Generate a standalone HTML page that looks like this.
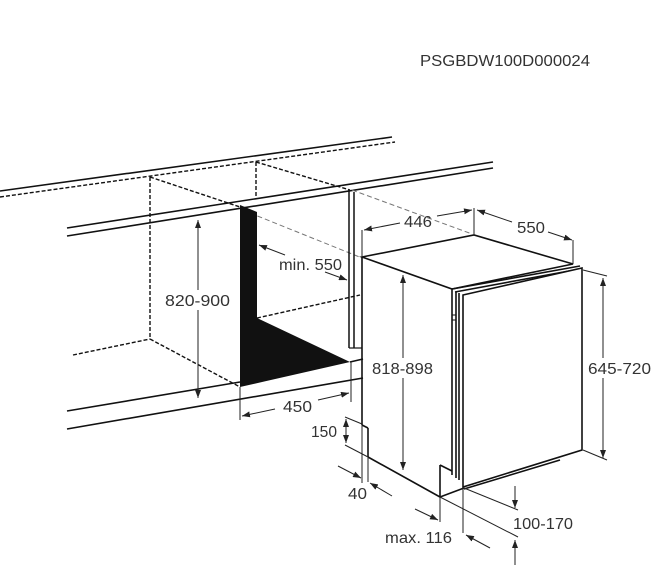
<!DOCTYPE html>
<html><head><meta charset="utf-8"><style>
html,body{margin:0;padding:0;background:#fff;}
svg{display:block;}
text{font-family:"Liberation Sans",sans-serif;fill:#333;}
</style></head><body>
<svg width="659" height="583" viewBox="0 0 659 583" xmlns="http://www.w3.org/2000/svg">
<defs>
<marker id="a" markerWidth="8" markerHeight="6" refX="8" refY="3" orient="auto" markerUnits="userSpaceOnUse"><path d="M0,0 L8,3 L0,6 Z" fill="#222"/></marker>
<marker id="b" markerWidth="8" markerHeight="6" refX="0" refY="3" orient="auto" markerUnits="userSpaceOnUse"><path d="M8,0 L0,3 L8,6 Z" fill="#222"/></marker>
</defs>
<text x="420" y="66" font-size="16" textLength="170" lengthAdjust="spacingAndGlyphs">PSGBDW100D000024</text>
<g stroke="#111" fill="none">
<line x1="0" y1="191" x2="392" y2="137" stroke-width="1.6"/>
<line x1="0" y1="197" x2="395" y2="142" stroke-width="1.4" stroke-dasharray="4,2"/>
<line x1="67" y1="228" x2="493" y2="162" stroke-width="1.6"/>
<line x1="67" y1="236" x2="493" y2="168" stroke-width="1.6"/>
<line x1="67" y1="411" x2="240" y2="382" stroke-width="1.6"/>
<line x1="350" y1="362" x2="363" y2="359" stroke-width="1.6"/>
<line x1="67" y1="429" x2="363" y2="378" stroke-width="1.6"/>
<g stroke-dasharray="4,2" stroke-width="1.4">
<line x1="150" y1="177" x2="150" y2="339"/>
<line x1="256" y1="162" x2="256" y2="198"/>
<line x1="150" y1="177" x2="240" y2="207"/>
<line x1="256" y1="162" x2="350" y2="190"/>
<line x1="73" y1="355" x2="150" y2="339"/>
<line x1="150" y1="339" x2="240" y2="387"/>
<line x1="257" y1="318" x2="360" y2="295"/>
</g>
<g stroke="#777" stroke-dasharray="5,3" stroke-width="1">
<line x1="250" y1="213" x2="362" y2="258"/>
<line x1="352" y1="190" x2="472" y2="234"/>
</g>
<line x1="349" y1="190" x2="349" y2="348" stroke-width="1.5"/>
<line x1="354" y1="192" x2="354" y2="348" stroke-width="1.5"/>
<line x1="349" y1="348" x2="362" y2="348" stroke-width="1.2"/>
</g>
<polygon points="240,205 257,212 257,318 350,362 240,387" fill="#111"/>
<g stroke="#222" stroke-width="1" fill="none">
<line x1="198" y1="220" x2="198" y2="398" marker-start="url(#b)" marker-end="url(#a)"/>
<line x1="259" y1="245" x2="285" y2="255" marker-start="url(#b)"/>
<line x1="325" y1="272" x2="347" y2="280" marker-end="url(#a)"/>
<line x1="240" y1="387" x2="240" y2="420"/>
<line x1="351" y1="362" x2="351" y2="402"/>
<line x1="242" y1="416" x2="275" y2="409" marker-start="url(#b)"/>
<line x1="318" y1="400" x2="349" y2="393" marker-end="url(#a)"/>
</g>
<rect x="163" y="290" width="70" height="20" fill="#fff"/>
<text x="165" y="306" font-size="16" textLength="65" lengthAdjust="spacingAndGlyphs">820-900</text>
<text x="279" y="270" font-size="16" textLength="63" lengthAdjust="spacingAndGlyphs">min. 550</text>
<text x="283" y="412" font-size="16" textLength="29" lengthAdjust="spacingAndGlyphs">450</text>
<g stroke="#111" fill="none" stroke-width="1.6">
<polygon points="362,257 474,235 573,264 452,289" fill="#fff"/>
<line x1="452" y1="289" x2="580" y2="266"/>
<line x1="455" y1="292" x2="580" y2="269"/>
<line x1="362" y1="257" x2="362" y2="425"/>
<line x1="362" y1="425" x2="368" y2="428"/>
<line x1="368" y1="428" x2="368" y2="457"/>
<line x1="368" y1="457" x2="440" y2="497"/>
<line x1="440" y1="497" x2="440" y2="465"/>
<line x1="440" y1="465" x2="452" y2="471"/>
<line x1="440" y1="497" x2="464" y2="488"/>
<line x1="452" y1="289" x2="452" y2="475"/>
<line x1="456" y1="292" x2="456" y2="478"/>
<line x1="459" y1="293" x2="459" y2="480"/>
<polygon points="463,295 582,268 582,450 463,487" fill="#fff"/>
<line x1="464" y1="489" x2="560" y2="460"/>
<rect x="452" y="315" width="4" height="5" stroke-width="1"/>
</g>
<g stroke="#222" stroke-width="1" fill="none">
<line x1="362" y1="230" x2="362" y2="257"/>
<line x1="474" y1="208" x2="474" y2="235"/>
<line x1="364" y1="230" x2="400" y2="223" marker-start="url(#b)"/>
<line x1="437" y1="216" x2="472" y2="210" marker-end="url(#a)"/>
<line x1="573" y1="240" x2="573" y2="264"/>
<line x1="477" y1="210" x2="512" y2="222" marker-start="url(#b)"/>
<line x1="548" y1="232" x2="572" y2="240" marker-end="url(#a)"/>
<line x1="583" y1="270" x2="607" y2="276"/>
<line x1="583" y1="450" x2="607" y2="460"/>
<line x1="603" y1="278" x2="603" y2="458" marker-start="url(#b)" marker-end="url(#a)"/>
<line x1="403" y1="275" x2="403" y2="470" marker-start="url(#b)" marker-end="url(#a)"/>
<line x1="345" y1="417" x2="362" y2="424"/>
<line x1="345" y1="445" x2="368" y2="457"/>
<line x1="346" y1="419" x2="346" y2="443" marker-start="url(#b)" marker-end="url(#a)"/>
<line x1="362" y1="425" x2="362" y2="483"/>
<line x1="368" y1="457" x2="368" y2="482"/>
<line x1="338" y1="466" x2="361" y2="478" marker-end="url(#a)"/>
<line x1="370" y1="483" x2="392" y2="496" marker-start="url(#b)"/>
<line x1="440" y1="497" x2="440" y2="522"/>
<line x1="415" y1="509" x2="438" y2="520" marker-end="url(#a)"/>
<line x1="463" y1="487" x2="463" y2="533"/>
<line x1="466" y1="535" x2="490" y2="548" marker-start="url(#b)"/>
<line x1="464" y1="488" x2="518" y2="510"/>
<line x1="440" y1="497" x2="518" y2="537"/>
<line x1="515" y1="486" x2="515" y2="508" marker-end="url(#a)"/>
<line x1="515" y1="565" x2="515" y2="540" marker-end="url(#a)"/>
</g>
<rect x="370" y="358" width="66" height="20" fill="#fff"/>
<rect x="586" y="358" width="70" height="20" fill="#fff"/>
<text x="372" y="374" font-size="16" textLength="61" lengthAdjust="spacingAndGlyphs">818-898</text>
<text x="588" y="374" font-size="16" textLength="63" lengthAdjust="spacingAndGlyphs">645-720</text>
<text x="404" y="227" font-size="16" textLength="28" lengthAdjust="spacingAndGlyphs">446</text>
<text x="517" y="233" font-size="16" textLength="28" lengthAdjust="spacingAndGlyphs">550</text>
<text x="311" y="437" font-size="16" textLength="26" lengthAdjust="spacingAndGlyphs">150</text>
<text x="348" y="499" font-size="16" textLength="19" lengthAdjust="spacingAndGlyphs">40</text>
<text x="385" y="543" font-size="16" textLength="67" lengthAdjust="spacingAndGlyphs">max. 116</text>
<text x="513" y="529" font-size="16" textLength="60" lengthAdjust="spacingAndGlyphs">100-170</text>
</svg>
</body></html>
